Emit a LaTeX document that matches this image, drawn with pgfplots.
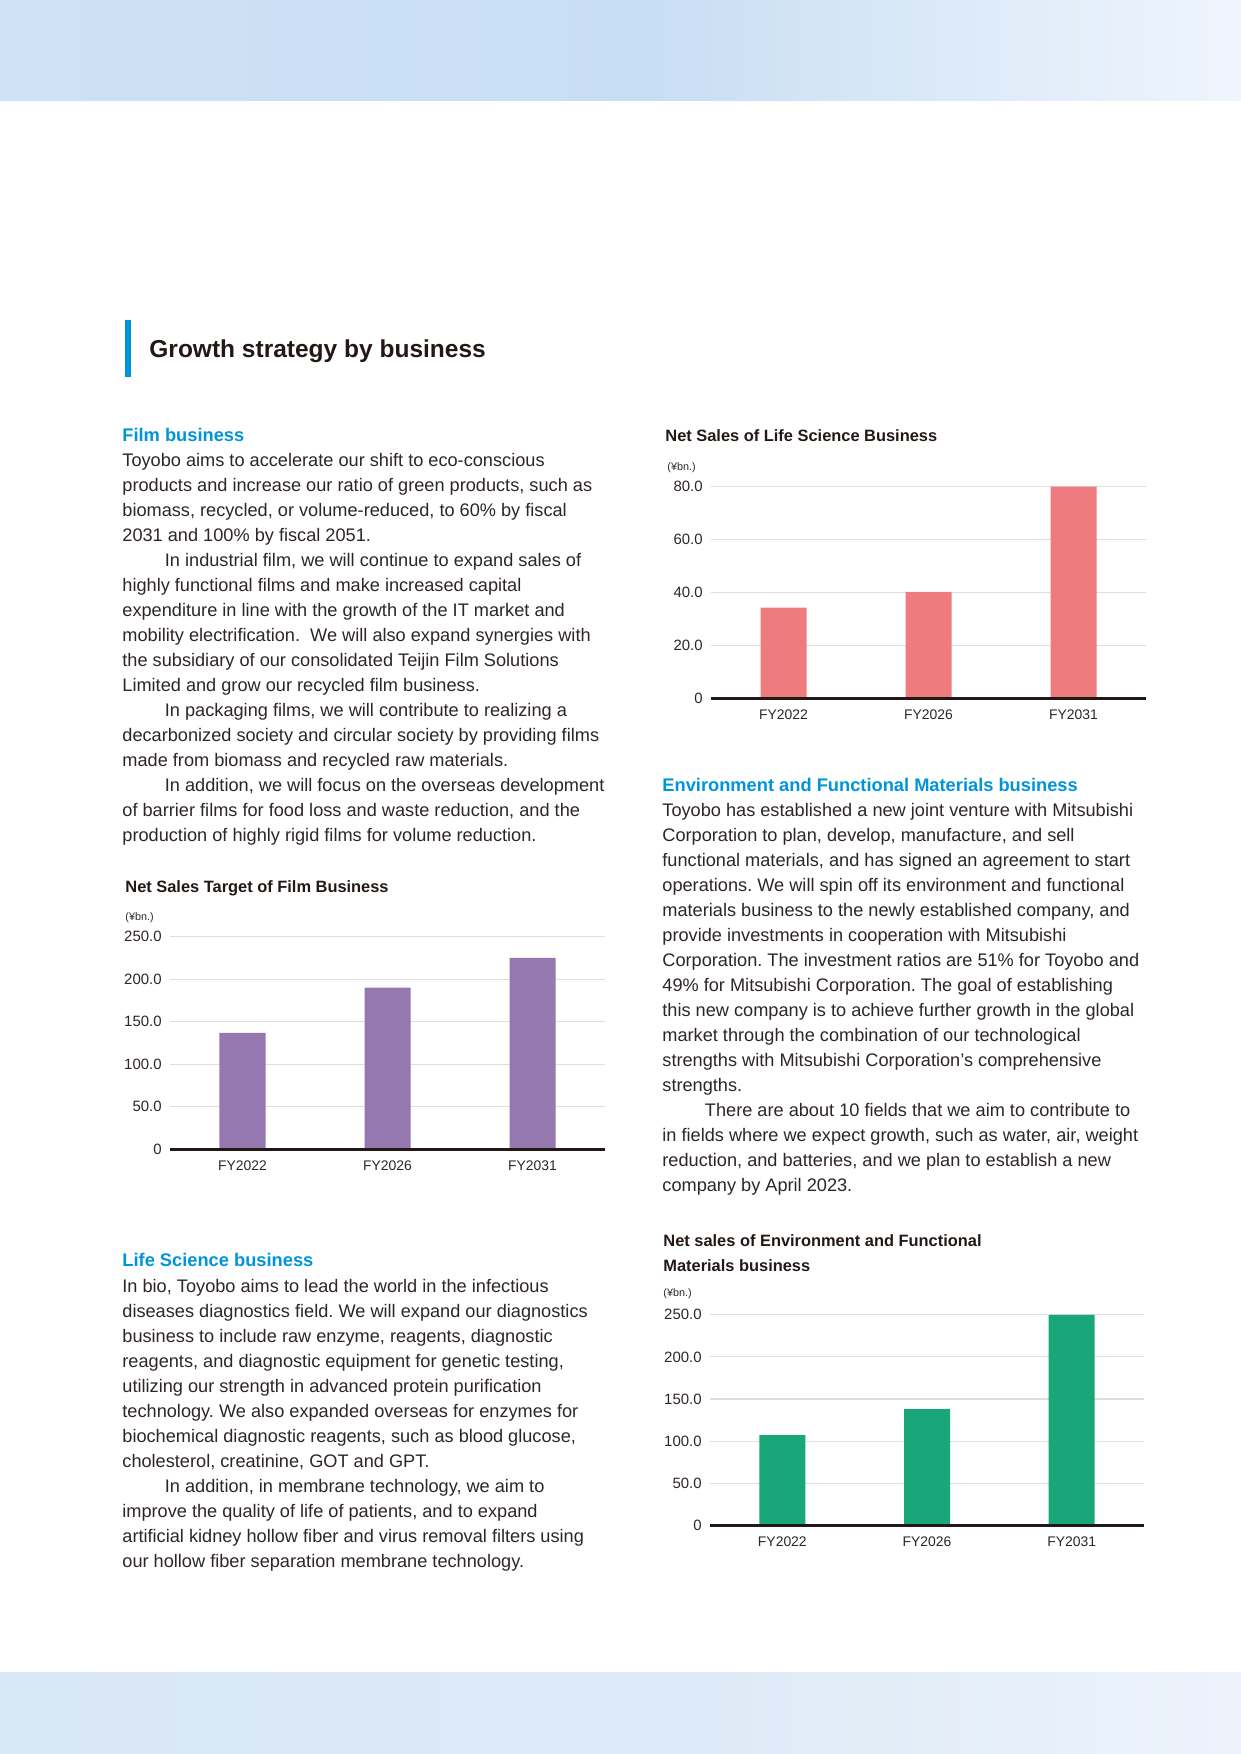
\documentclass[border=0pt]{standalone}
\usepackage{fontspec}
\setmainfont{Liberation Sans}
\usepackage{pgfplots}
\pgfplotsset{compat=1.18}
\frenchspacing

\definecolor{ink}{RGB}{35,24,21}
\definecolor{bodyink}{RGB}{45,38,36}
\definecolor{headblue}{RGB}{0,149,217}
\definecolor{filmpurple}{RGB}{148,120,175}
\definecolor{lifepink}{RGB}{238,124,126}
\definecolor{envgreen}{RGB}{25,166,120}
\definecolor{gridgray}{RGB}{222,222,222}
\definecolor{bandA}{RGB}{206,226,245}
\definecolor{bandB}{RGB}{200,222,243}
\definecolor{bandC}{RGB}{239,245,253}
\definecolor{footA}{RGB}{217,232,246}
\definecolor{footB}{RGB}{221,234,247}
\definecolor{footC}{RGB}{237,243,251}

\newcommand\bodyfont{\fontsize{8.75}{12}\selectfont}
\newcommand\headfont{\fontsize{8.8}{12}\selectfont\bfseries}
\newcommand\charttitlefont{\fontsize{7.9}{12}\selectfont\bfseries}

% one node per printed line, baselines 25px apart
\newcommand\para[3]{%
  \foreach \ln [count=\i from 0] in {#3}
    {\node[anchor=base west, inner sep=0pt, font=\bodyfont, text=bodyink] at (#1,{#2+25*\i}) {\ln};}}
\newcommand\ind{\hspace*{20.4bp}}

\pgfplotsset{
  salesbar/.style={
    anchor=south west, scale only axis, width=208.66bp,
    xmin=-0.5, xmax=2.5, ymin=0,
    axis x line*=bottom, axis y line*=left,
    axis line style={draw=none},
    xtick={0,1,2}, xticklabels={FY2022,FY2026,FY2031},
    major tick length=0pt,
    ymajorgrids, grid style={gridgray, line width=0.5bp},
    ybar, bar width=22.07bp,
    xticklabel style={font=\fontsize{6.7}{7}\selectfont, text=bodyink, inner sep=0pt, anchor=north},
    xticklabel shift=5.3bp,
    yticklabel style={font=\fontsize{7.2}{8}\selectfont, text=bodyink, inner sep=0pt, anchor=east},
    yticklabel shift=3.8bp,
    clip=false,
  }
}

\begin{document}
\begin{tikzpicture}
\begin{scope}[x=0.47968bp, y=-0.47968bp]
  \path[use as bounding box] (0,0) rectangle (1241,1754);
  % header and footer bands
  \shade[left color=bandA, right color=bandB] (0,0) rectangle (651,100);
  \shade[left color=bandB, right color=bandC] (650,0) rectangle (1241,100);
  \shade[left color=footA, right color=footB] (0,1672) rectangle (701,1754);
  \shade[left color=footB, right color=footC] (700,1672) rectangle (1241,1754);

  % page title
  \fill[headblue] (125,320) rectangle (130.5,377);
  \node[anchor=base west, inner sep=0pt, font=\fontsize{11.8}{14}\selectfont\bfseries, text=ink] at (149,357.5) {Growth strategy by business};

  % Film business
  \node[anchor=base west, inner sep=0pt, font=\headfont, text=headblue] at (122,441.7) {Film business};
  \para{122}{466.7}{
    {Toyobo aims to accelerate our shift to eco-conscious},
    {products and increase our ratio of green products, such as},
    {biomass, recycled, or volume-reduced, to 60\% by fiscal},
    {2031 and 100\% by fiscal 2051.},
    {\ind In industrial film, we will continue to expand sales of},
    {highly functional films and make increased capital},
    {expenditure in line with the growth of the IT market and},
    {mobility electrification. \ We will also expand synergies with},
    {the subsidiary of our consolidated Teijin Film Solutions},
    {Limited and grow our recycled film business.},
    {\ind In packaging films, we will contribute to realizing a},
    {decarbonized society and circular society by providing films},
    {made from biomass and recycled raw materials.},
    {\ind In addition, we will focus on the overseas development},
    {of barrier films for food loss and waste reduction, and the},
    {production of highly rigid films for volume reduction.}}

  % Life Science business
  \node[anchor=base west, inner sep=0pt, font=\headfont, text=headblue] at (122,1266.4) {Life Science business};
  \para{122}{1292.4}{
    {In bio, Toyobo aims to lead the world in the infectious},
    {diseases diagnostics field. We will expand our diagnostics},
    {business to include raw enzyme, reagents, diagnostic},
    {reagents, and diagnostic equipment for genetic testing,},
    {utilizing our strength in advanced protein purification},
    {technology. We also expanded overseas for enzymes for},
    {biochemical diagnostic reagents, such as blood glucose,},
    {cholesterol, creatinine, GOT and GPT.},
    {\ind In addition, in membrane technology, we aim to},
    {improve the quality of life of patients, and to expand},
    {artificial kidney hollow fiber and virus removal filters using},
    {our hollow fiber separation membrane technology.}}

  % Environment and Functional Materials business
  \node[anchor=base west, inner sep=0pt, font=\headfont, text=headblue] at (662,791.9) {Environment and Functional Materials business};
  \para{662}{816.9}{
    {Toyobo has established a new joint venture with Mitsubishi},
    {Corporation to plan, develop, manufacture, and sell},
    {functional materials, and has signed an agreement to start},
    {operations. We will spin off its environment and functional},
    {materials business to the newly established company, and},
    {provide investments in cooperation with Mitsubishi},
    {Corporation. The investment ratios are 51\% for Toyobo and},
    {49\% for Mitsubishi Corporation. The goal of establishing},
    {this new company is to achieve further growth in the global},
    {market through the combination of our technological},
    {strengths with Mitsubishi Corporation’s comprehensive},
    {strengths.},
    {\ind There are about 10 fields that we aim to contribute to},
    {in fields where we expect growth, such as water, air, weight},
    {reduction, and batteries, and we plan to establish a new},
    {company by April 2023.}}

  % chart titles and units
  \node[anchor=base west, inner sep=0pt, font=\charttitlefont, text=ink] at (665,441.7) {Net Sales of Life Science Business};
  \node[anchor=base west, inner sep=0pt, font=\fontsize{5.2}{6}\selectfont, text=bodyink] at (667,470) {(¥bn.)};
  \node[anchor=base west, inner sep=0pt, font=\charttitlefont, text=ink] at (125,892.7) {Net Sales Target of Film Business};
  \node[anchor=base west, inner sep=0pt, font=\fontsize{5.2}{6}\selectfont, text=bodyink] at (125,920) {(¥bn.)};
  \node[anchor=base west, inner sep=0pt, font=\charttitlefont, text=ink] at (663,1246.7) {Net sales of Environment and Functional};
  \node[anchor=base west, inner sep=0pt, font=\charttitlefont, text=ink] at (663,1271.7) {Materials business};
  \node[anchor=base west, inner sep=0pt, font=\fontsize{5.2}{6}\selectfont, text=bodyink] at (663,1296.7) {(¥bn.)};

  \coordinate (ls) at (711,698.3);
  \coordinate (fm) at (170,1149.3);
  \coordinate (ev) at (710,1525.3);
\end{scope}

% Net Sales of Life Science Business
\begin{axis}[salesbar, at={(ls)}, height=101.5bp, ymax=80,
    ytick={0,20,40,60,80}, yticklabels={0,20.0,40.0,60.0,80.0}]
  \addplot[fill=lifepink, draw=none] coordinates {(0,34.3) (1,40.2) (2,80)};
  \draw[ink, line width=1.3bp] (axis cs:-0.5,0) -- (axis cs:2.5,0);
\end{axis}

% Net Sales Target of Film Business
\begin{axis}[salesbar, at={(fm)}, height=102bp, ymax=250,
    ytick={0,50,100,150,200,250}, yticklabels={0,50.0,100.0,150.0,200.0,250.0}]
  \addplot[fill=filmpurple, draw=none] coordinates {(0,137) (1,190) (2,225)};
  \draw[ink, line width=1.3bp] (axis cs:-0.5,0) -- (axis cs:2.5,0);
\end{axis}

% Net sales of Environment and Functional Materials business
\begin{axis}[salesbar, at={(ev)}, width=208.2bp, height=101bp, ymax=250,
    ytick={0,50,100,150,200,250}, yticklabels={0,50.0,100.0,150.0,200.0,250.0}]
  \addplot[fill=envgreen, draw=none] coordinates {(0,107) (1,138) (2,250)};
  \draw[ink, line width=1.3bp] (axis cs:-0.5,0) -- (axis cs:2.5,0);
\end{axis}
\end{tikzpicture}
\end{document}
